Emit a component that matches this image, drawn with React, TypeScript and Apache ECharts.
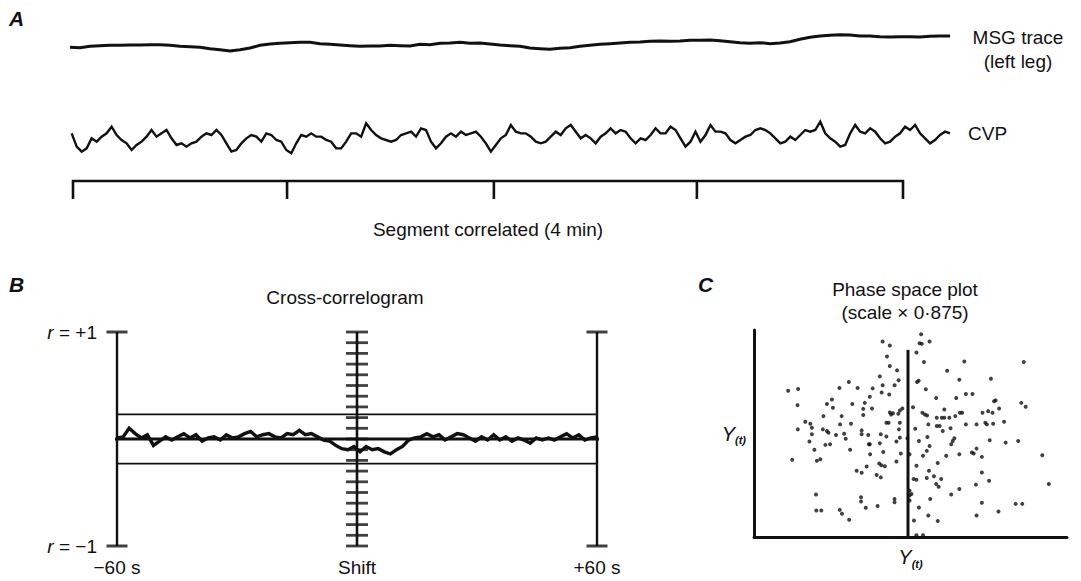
import React, { useEffect, useRef } from 'react';
import * as echarts from 'echarts';

// ---------- Panel A ----------
const msgTrace = [
  1.8, 1.7, 2.1, 2.3, 2.4, 2.4, 2.5, 2.5, 2.6, 2.6, 2.4, 2.1, 2.0, 1.8, 1.4, 1.1, 0.7, 1.1, 1.6, 2.4,
  2.8, 3.0, 3.2, 3.3, 3.3, 2.9, 2.7, 2.5, 2.3, 2.1, 2.2, 2.2, 2.4, 2.3, 2.2, 2.7, 2.6, 3.0, 3.1, 3.3,
  3.0, 3.1, 2.8, 2.5, 2.3, 2.1, 1.6, 1.4,
  1.2, 1.5, 1.7, 2.1, 2.4, 2.7, 2.9, 3.1, 3.3, 3.4, 3.6, 3.7, 3.6, 3.7, 3.9, 3.9, 4.0, 3.8, 3.5, 3.2,
  3.0, 3.2, 2.9, 3.1, 3.5, 4.2, 4.8, 5.2, 5.4, 5.6, 5.5, 5.2, 5.2, 5.0, 4.9, 5.0, 5.0, 4.9, 5.1, 5.2,
  5.2,
];

const cvpTrace = [
  7.0, 3.0, 1.5, 2.5, 5.5, 4.5, 6.0, 7.0, 9.0, 6.5, 5.0, 4.0, 2.0, 3.5, 4.5, 6.0, 8.0, 6.0, 7.0, 8.0,
  5.5, 3.5, 4.0, 3.0, 4.0, 4.5, 6.0, 7.0, 6.5, 8.0, 6.5, 4.0, 1.5, 2.0, 4.0, 5.5, 6.5, 6.0, 4.5, 7.0,
  6.5, 5.0, 4.5, 2.0, 1.0, 4.0, 6.5, 6.0, 7.0, 6.0, 6.0, 5.0, 4.5, 2.5, 2.5, 4.5, 7.0, 7.0, 6.0, 10.0,
  8.0, 6.5, 5.5, 5.0, 4.5, 5.0, 6.5, 7.0, 7.5, 6.0, 8.5, 8.0, 4.5, 2.5, 4.0, 6.0, 7.0, 6.0, 7.5, 6.5,
  7.0, 7.5, 6.0, 4.0, 1.5, 3.5, 5.5, 6.5, 9.5, 7.5, 7.0, 7.0, 6.0, 4.5,
  4.0, 4.5, 6.0, 7.5, 6.5, 8.5, 9.5, 7.5, 5.5, 6.5, 5.5, 4.0, 6.0, 7.0, 8.5, 7.0, 8.0, 7.5, 5.5, 4.0,
  5.5, 5.0, 6.5, 8.5, 7.0, 7.0, 9.0, 8.0, 5.5, 3.0, 4.5, 7.5, 4.5, 6.5, 9.5, 7.5, 7.5, 7.0, 5.0, 4.0,
  5.0, 6.0, 6.5, 8.0, 8.5, 8.0, 7.0, 5.5, 4.0, 4.5, 6.0, 5.0, 6.5, 8.0, 7.5, 8.0, 10.5, 7.0, 5.5, 4.5,
  3.0, 3.5, 7.0, 9.5, 7.5, 7.0, 8.5, 7.5, 5.5, 4.0, 4.5, 6.0, 7.0, 9.0, 8.0, 9.5, 7.0, 5.5, 4.0, 5.0,
  6.5, 7.5, 7.0,
];

// minute marks of the correlated segment (s), as placed in the picture
const segmentTicks = [0, 61.9, 121.7, 180.4, 240];

// ---------- Panel B ----------
const correlogram = [
  0.01, 0.02, 0.10, 0.05, 0.01, 0.04, -0.06, -0.02, 0.02, -0.01,
  0.02, 0.05, 0.01, 0.04, -0.02, 0.01, 0.02, -0.01, 0.04, 0.01,
  0.02, 0.05, 0.07, 0.02, 0.04, 0.05, 0.02, 0.01, 0.05, 0.04,
  0.08, 0.04, 0.05, 0.02, -0.01, -0.02, -0.06, -0.09, -0.10, -0.07,
  -0.12, -0.07, -0.10, -0.09, -0.12, -0.14, -0.10, -0.07, -0.01, 0.01,
  0.02, 0.05, 0.02, 0.04, -0.01, 0.02, 0.05, 0.04, 0.01, -0.02,
  0.02, -0.01, 0.04, -0.01, 0.02, -0.02, 0.01, -0.01, -0.04, 0.01,
  -0.01, 0.01, -0.01, 0.02, 0.05, 0.01, 0.04, -0.01, 0.01, 0.02,
];
const lagLimit = 60;
const confidenceBand = 0.23;
const shiftTicks = [-1, -0.9, -0.8, -0.7, -0.6, -0.5, -0.4, -0.3, -0.2, -0.1, 0, 0.1, 0.2, 0.3, 0.4, 0.5, 0.6, 0.7, 0.8, 0.9, 1];
const shiftLabels = ['\u221260 s', 'Shift', '+60 s'];

// ---------- Panel C ----------
const phasePoints = [
  [53.4, 97.9], [52.9, 93.6], [53.6, 93.3], [56.1, 94.4], [41.1, 94.4], [43.4, 92.5], [51.9, 89.1], [42.5, 87.2], [54.3, 84.5], [43.4, 82.6],
  [67.2, 84.8], [86.2, 84.5], [61.7, 80.3], [45.7, 80.5], [40.2, 77.6], [46.2, 75.7], [52.1, 74.9], [52.6, 75.5], [41.1, 73.3], [44.9, 73.3],
  [65.6, 76.0], [75.7, 76.5], [30.3, 74.9], [27.3, 72.0], [33.1, 72.0], [37.9, 71.8], [10.9, 70.7], [14.1, 71.5], [54.9, 71.4], [40.8, 69.8],
  [43.2, 68.8], [67.7, 69.1], [69.8, 69.1], [13.9, 63.7], [24.9, 66.4], [23.3, 64.3], [37.0, 67.8], [35.4, 64.8], [31.4, 64.3], [34.9, 61.9],
  [37.7, 62.1], [43.4, 60.2], [44.4, 59.8], [46.1, 59.5], [46.6, 61.1], [47.4, 62.1], [50.8, 62.7], [53.8, 60.0], [54.6, 59.2], [55.3, 58.7],
  [60.8, 61.6], [58.4, 57.6], [60.0, 57.6], [60.8, 57.6], [62.4, 57.6], [64.3, 58.4], [65.8, 60.0], [66.5, 60.0], [73.0, 60.0], [74.8, 60.8],
  [76.7, 65.6], [77.2, 66.0], [78.3, 62.1], [76.2, 60.0], [85.4, 64.8], [86.8, 62.9], [58.2, 67.2], [64.6, 67.2], [22.2, 58.4], [25.2, 62.4],
  [28.0, 58.4], [34.9, 58.9], [16.4, 55.7], [18.0, 54.7], [22.0, 52.0], [23.3, 51.2], [23.8, 50.4], [18.5, 52.8], [27.5, 54.4], [14.0, 52.0],
  [18.5, 49.6], [26.2, 49.3], [28.8, 49.9], [29.3, 47.5], [31.0, 54.7], [34.4, 51.5], [34.4, 49.6], [36.5, 49.3], [36.7, 44.8], [40.5, 49.6],
  [42.3, 55.2], [43.0, 55.2], [46.6, 55.2], [46.3, 52.0], [51.5, 52.3], [55.7, 54.4], [58.4, 53.6], [59.3, 53.6], [60.3, 51.2], [62.8, 52.5],
  [67.7, 54.4], [71.1, 54.4], [73.9, 55.2], [74.4, 54.4], [76.4, 54.7], [79.9, 55.7], [64.0, 47.7], [63.5, 46.4], [63.0, 44.8], [55.4, 48.3],
  [56.1, 44.0], [55.2, 41.6], [54.0, 39.2], [52.7, 46.4], [49.0, 47.7], [46.6, 48.0], [45.5, 46.1], [42.3, 48.5], [40.2, 45.3], [37.0, 44.8],
  [17.7, 46.1], [19.3, 42.1], [22.8, 44.5], [24.3, 44.8], [30.7, 42.1], [46.9, 40.3], [49.7, 40.0], [20.1, 36.8], [21.2, 37.6], [12.2, 37.3],
  [37.1, 40.0], [41.3, 41.1], [45.5, 36.5], [40.0, 35.5], [40.7, 34.7], [41.8, 34.2], [32.8, 32.0], [34.4, 31.0], [36.0, 34.1], [39.2, 29.9],
  [40.5, 28.8], [51.9, 34.4], [51.0, 28.0], [51.9, 27.7], [55.9, 32.0], [58.7, 35.7], [61.4, 39.2], [65.6, 40.0], [69.6, 40.8], [70.2, 40.3],
  [71.1, 42.7], [72.8, 38.7], [75.3, 46.7], [80.4, 45.6], [84.4, 46.4], [92.1, 39.5], [94.2, 25.6], [72.8, 31.2], [75.1, 27.2], [70.9, 25.3],
  [65.6, 23.2], [63.0, 20.5], [59.0, 24.3], [58.2, 25.6], [57.5, 29.3], [55.2, 28.5], [49.7, 22.4], [50.3, 20.8], [56.3, 18.4], [59.8, 28.0],
  [44.9, 18.4], [44.9, 16.8], [49.7, 20.0], [39.5, 15.0], [35.7, 14.1], [34.2, 19.2], [34.2, 17.1], [19.8, 20.5], [19.9, 12.8], [21.5, 12.8],
  [27.4, 13.1], [28.1, 11.2], [30.4, 8.3], [52.7, 14.2], [55.7, 10.4], [58.7, 7.7], [51.1, 8.0], [71.1, 10.4], [72.8, 16.5], [78.1, 12.3],
  [83.6, 16.0], [85.7, 16.0], [51.9, 0.8], [54.0, 0.8], [49.7, 17.6], [43.8, 59.2],
];
const phaseMarkerX = 49.2;
const phaseMarkerTop = 90.4;

const INK = '#111';
const FONT = "'Liberation Sans', Arial, Helvetica, sans-serif";

function buildOption() {
  const segPath: number[][] = [];
  segmentTicks.forEach((t) => {
    segPath.push([t, 1]);
    segPath.push([t, 0]);
    segPath.push([t, 1]);
  });

  const hidden = { show: false };
  const bare = {
    axisLine: { show: false },
    axisTick: { show: false },
    axisLabel: { show: false },
    splitLine: { show: false },
  };
  const lineS = (xi: number, yi: number, data: any, width: number, extra: any = {}) => ({
    type: 'line',
    xAxisIndex: xi,
    yAxisIndex: yi,
    data,
    showSymbol: false,
    symbol: 'none',
    silent: true,
    clip: false,
    lineStyle: { color: INK, width, cap: 'butt', join: 'miter' },
    ...extra,
  });

  const yRich = {
    y: { fontFamily: FONT, fontSize: 20, fontStyle: 'italic', color: INK, lineHeight: 24 },
    s: { fontFamily: FONT, fontSize: 11, fontStyle: 'italic', fontWeight: 'bold', color: INK, lineHeight: 24, verticalAlign: 'bottom' },
  };

  const txt = (text: string, x: number, y: number, size: number, extra: any = {}) => ({
    type: 'text',
    x,
    y,
    silent: true,
    style: {
      text,
      fill: INK,
      font: `${extra.style || ''} ${extra.weight || ''} ${size}px ${FONT}`,
      align: extra.align || 'left',
      textAlign: extra.align || 'left',
      verticalAlign: 'middle',
      textVerticalAlign: 'middle',
    },
  });

  return {
    animation: false,
    backgroundColor: '#fff',
    textStyle: { fontFamily: FONT, color: INK },
    grid: [
      { left: 70, top: 33.33, width: 880, height: 20, outerBoundsMode: 'none' },
      { left: 71.7, top: 116.67, width: 878.3, height: 40, outerBoundsMode: 'none' },
      { left: 73, top: 181, width: 830, height: 18, outerBoundsMode: 'none' },
      { left: 117, top: 332, width: 480, height: 214, outerBoundsMode: 'none' },
      { left: 754, top: 330, width: 313, height: 207, outerBoundsMode: 'none' },
    ],
    xAxis: [
      { gridIndex: 0, type: 'category', boundaryGap: false, data: msgTrace.map((_, i) => i), ...hidden },
      { gridIndex: 1, type: 'category', boundaryGap: false, data: cvpTrace.map((_, i) => i), ...hidden },
      {
        gridIndex: 2, type: 'value', min: 0, max: 240, ...bare,
        name: 'Segment correlated (4 min)', nameLocation: 'middle', nameGap: 21,
        nameTextStyle: { fontFamily: FONT, fontSize: 19, color: INK },
      },
      {
        gridIndex: 3, type: 'value', min: -lagLimit, max: lagLimit, interval: lagLimit,
        axisLine: { show: false, onZero: false }, axisTick: { show: false }, splitLine: { show: false },
        axisLabel: {
          show: true, margin: 12, fontFamily: FONT, fontSize: 19, color: INK,
          showMinLabel: true, showMaxLabel: true,
          formatter: (v: number) => (v < 0 ? shiftLabels[0] : v === 0 ? shiftLabels[1] : shiftLabels[2]),
        },
      },
      { gridIndex: 3, type: 'category', boundaryGap: false, data: correlogram.map((_, i) => i), ...hidden },
      {
        gridIndex: 4, type: 'value', min: 0, max: 100,
        axisLine: { show: true, onZero: false, lineStyle: { color: INK, width: 3 } },
        axisTick: { show: false }, axisLabel: { show: false }, splitLine: { show: false },
        name: '{y|Y}{s|(t)}', nameLocation: 'middle', nameGap: 8,
        nameTextStyle: { rich: yRich },
      },
    ],
    yAxis: [
      { gridIndex: 0, type: 'value', min: 0, max: 6, ...hidden },
      { gridIndex: 1, type: 'value', min: 0, max: 12, ...hidden },
      { gridIndex: 2, type: 'value', min: 0, max: 1, ...hidden },
      {
        gridIndex: 3, type: 'value', min: -1, max: 1, interval: 2,
        axisLine: { show: false, onZero: false }, axisTick: { show: false }, splitLine: { show: false },
        axisLabel: {
          show: true, margin: 20, fontFamily: FONT, fontSize: 19, color: INK,
          showMinLabel: true, showMaxLabel: true,
          formatter: (v: number) => (v > 0 ? '{i|r} = +1' : '{i|r} = \u22121'),
          rich: { i: { fontFamily: FONT, fontSize: 19, fontStyle: 'italic', color: INK } },
        },
      },
      {
        gridIndex: 4, type: 'value', min: 0, max: 100,
        axisLine: { show: true, onZero: false, lineStyle: { color: INK, width: 3 } },
        axisTick: { show: false }, axisLabel: { show: false }, splitLine: { show: false },
        name: '{y|Y}{s|(t)}', nameLocation: 'middle', nameGap: 8, nameRotate: 0,
        nameTextStyle: { rich: yRich },
      },
    ],
    series: [
      lineS(0, 0, msgTrace, 3),
      lineS(1, 1, cvpTrace, 2.4),
      lineS(2, 2, segPath, 2.6),
      // correlogram frame
      lineS(3, 3, [[-lagLimit, confidenceBand], [lagLimit, confidenceBand]], 1.8),
      lineS(3, 3, [[-lagLimit, -confidenceBand], [lagLimit, -confidenceBand]], 1.8),
      lineS(3, 3, [[-lagLimit - 2.2, 0], [lagLimit + 2.2, 0]], 2.8),
      lineS(3, 3, [[-lagLimit, -1], [-lagLimit, 1]], 2.4),
      lineS(3, 3, [[lagLimit, -1], [lagLimit, 1]], 2.4),
      lineS(3, 3, [[0, -1], [0, 1]], 2.6),
      {
        type: 'scatter', xAxisIndex: 3, yAxisIndex: 3, silent: true,
        symbol: 'rect', symbolSize: [21, 3],
        itemStyle: { color: INK },
        data: [[-lagLimit, 1], [-lagLimit, -1], [lagLimit, 1], [lagLimit, -1]],
      },
      {
        type: 'scatter', xAxisIndex: 3, yAxisIndex: 3, silent: true,
        symbol: 'rect', symbolSize: [22, 2.8],
        itemStyle: { color: INK },
        data: shiftTicks.map((r) => [0, r]),
      },
      lineS(4, 3, correlogram, 3.4),
      // phase space plot
      lineS(5, 4, [[phaseMarkerX, 0], [phaseMarkerX, phaseMarkerTop]], 3),
      {
        type: 'scatter', xAxisIndex: 5, yAxisIndex: 4, silent: true,
        symbol: 'circle', symbolSize: 4,
        itemStyle: { color: INK },
        data: phasePoints,
      },
    ],
    graphic: [
      txt('A', 9, 18, 21, { style: 'italic', weight: 'bold' }),
      txt('B', 9, 284, 21, { style: 'italic', weight: 'bold' }),
      txt('C', 698, 284, 21, { style: 'italic', weight: 'bold' }),
      txt('MSG trace', 1018, 37, 19, { align: 'center' }),
      txt('(left leg)', 1018, 61, 19, { align: 'center' }),
      txt('CVP', 968, 133, 19),
      txt('Cross-correlogram', 345, 297, 19, { align: 'center' }),
      txt('Phase space plot', 905, 289, 19, { align: 'center' }),
      txt('(scale \u00d7 0\u00b7875)', 905, 312, 19, { align: 'center' }),
    ],
  };
}

export default function App() {
  const ref = useRef<HTMLDivElement>(null);
  useEffect(() => {
    if (!ref.current) return;
    const chart = echarts.init(ref.current, null, { renderer: 'svg' });
    chart.setOption(buildOption() as any);
    return () => chart.dispose();
  }, []);
  return (
    <div
      ref={ref}
      style={{ position: 'absolute', left: 0, top: 0, width: 1081, height: 581, background: '#fff' }}
    />
  );
}
